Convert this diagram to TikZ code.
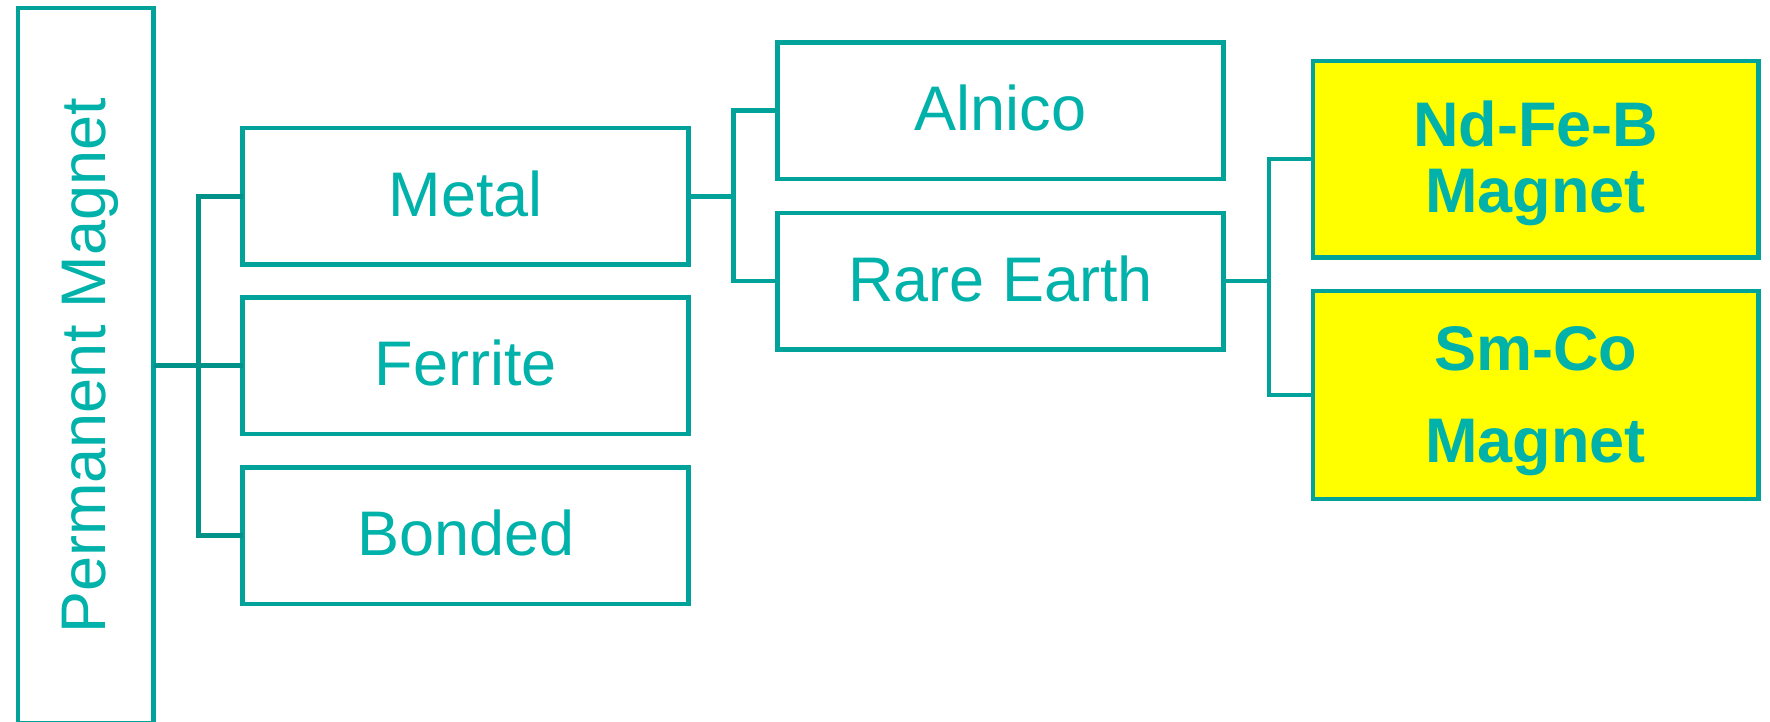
\documentclass[tikz,border=0pt]{standalone}
\usepackage{fontspec}
\setmainfont{Liberation Sans}
\definecolor{tealline}{RGB}{0,162,154}
\definecolor{tealdark}{RGB}{0,145,137}
\definecolor{tealtext}{RGB}{0,178,170}
\definecolor{hiyellow}{RGB}{255,255,0}
\begin{document}
\begin{tikzpicture}[x=1pt,y=-1pt,
  box/.style={draw=tealline, line width=4.5pt, fill=white, text=tealtext,
    inner sep=0pt, outer sep=0pt, minimum width=445.9pt, minimum height=136.5pt,
    font=\fontsize{63}{66.7}\selectfont, text height=46pt, text depth=6pt},
  hibox/.style={box, fill=hiyellow, minimum height=196.4pt,
    font=\bfseries\fontsize{63}{66.7}\selectfont, align=center},
  conn/.style={draw=tealline, line width=4.5pt, line join=miter},
  conndark/.style={draw=tealdark, line width=4.5pt, line join=miter}]
\useasboundingbox (0,0) rectangle (1770,721);
\clip (0,0) rectangle (1770,721);
% root
\node[box, rotate=90, minimum width=715.4pt, minimum height=135.5pt] (pm) at (85.8,365.7) {Permanent Magnet};
% level 1
\node[box] (metal)   at (465.6,196.4) {Metal};
\node[box] (ferrite) at (465.6,365.7) {Ferrite};
\node[box] (bonded)  at (465.6,535.6) {Bonded};
% level 2
\node[box] (alnico) at (1000.6,110.6) {Alnico};
\node[box] (rare)   at (1000.6,281.0) {Rare Earth};
% level 3
\node[hibox, text height=112.7pt, text depth=5.3pt] (ndfeb) at (1535.7,159.2) {Nd-Fe-B\\Magnet};
\node[hibox, minimum height=207.7pt, text height=138.7pt, text depth=3.3pt] (smco) at (1535.7,395.0) {Sm-Co\\[26pt]Magnet};
% bus coordinates
\coordinate (b1) at (198.7,0);
\coordinate (b2) at (733.7,0);
\coordinate (b3) at (1268.8,0);
% connectors
\draw[conndark] (pm.south) -- (ferrite.west);
\draw[conndark] (metal.west) -- (metal.west -| b1) -- (bonded.west -| b1) -- (bonded.west);
\draw[conn] (metal.east) -- (metal.east -| b2);
\draw[conn] (alnico.west) -- (alnico.west -| b2) -- (rare.west -| b2) -- (rare.west);
\draw[conn] (rare.east) -- (rare.east -| b3);
\draw[conn] (ndfeb.west) -- (ndfeb.west -| b3) -- (smco.west -| b3) -- (smco.west);
\end{tikzpicture}
\end{document}
